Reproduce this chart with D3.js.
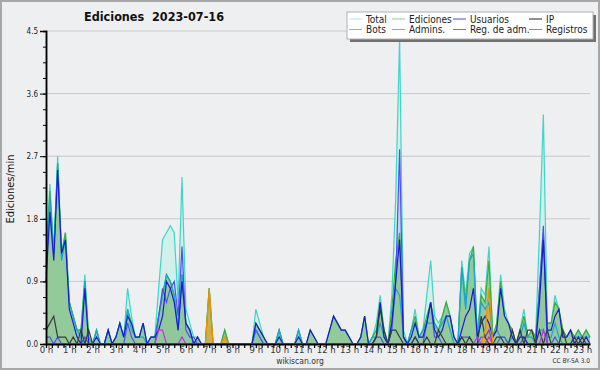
<!DOCTYPE html>
<html>
<head>
<meta charset="utf-8">
<script src="https://cdn.jsdelivr.net/npm/d3@7"></script>
<style>
body{margin:0;background:#fff;}
text{font-family:"DejaVu Sans Condensed","DejaVu Sans",sans-serif;}
</style>
</head>
<body>
<script>
//wrap everything in a self-executing anonymous function
(function(){

//values every 10 minutes (0:00 to 23:20), in edits per minute
var total = [
    1.2, 2.3, 1.3, 2.7, 1.3, 1.6,   0.6, 0.4, 0.2, 0.2, 1.0, 0.1,
    0, 0.2, 0, 0, 0.2, 0,           0.1, 0.3, 0.1, 0.8, 0.4, 0.1,
    0.1, 0.3, 0, 0.1, 0.1, 0.8,     1.5, 1.6, 1.7, 1.6, 0.6, 2.4,
    0.5, 0.3, 0.1, 0.1, 0, 0,       0.8, 0, 0, 0, 0.2, 0,
    0, 0, 0, 0, 0, 0,               0.5, 0.3, 0.1, 0, 0, 0,
    0.2, 0, 0, 0, 0, 0.2,           0, 0, 0.2, 0.1, 0, 0,
    0, 0.2, 0.4, 0.3, 0.2, 0.2,     0.1, 0, 0, 0.1, 0.4, 0,
    0.1, 0.3, 0.7, 0.2, 0, 0.7,     2.1, 4.4, 0.2, 0, 0.2, 0.5,
    0.1, 0.2, 0.7, 1.2, 0.4, 0.3,   0.4, 0.6, 0.4, 0.1, 0, 1.2,
    0.7, 1.3, 1.4, 0.1, 0.8, 0.7,   1.4, 0.1, 0.3, 1.0, 0.5, 0.3,
    0.2, 0, 0.2, 0.5, 0.1, 0.2,     0.1, 1.6, 3.3, 0.3, 0.3, 0.7,
    0.5, 0.2, 0.1, 0.2, 0.1, 0.2,   0.1, 0.2, 0.1
];
var ediciones = [
    1.1, 2.2, 1.3, 2.6, 1.3, 1.6,   0.6, 0.4, 0.2, 0.2, 0.9, 0.1,
    0, 0.2, 0, 0, 0.2, 0,           0.1, 0.3, 0.1, 0.5, 0.3, 0.1,
    0.1, 0.3, 0, 0.1, 0.1, 0.4,     0.7, 1.0, 0.9, 0.7, 0.2, 1.0,
    0.3, 0.2, 0, 0.1, 0, 0,         0.8, 0, 0, 0, 0.2, 0,
    0, 0, 0, 0, 0, 0,               0.3, 0.2, 0.1, 0, 0, 0,
    0.2, 0, 0, 0, 0, 0.2,           0, 0, 0.2, 0.1, 0, 0,
    0, 0.2, 0.4, 0.3, 0.2, 0.2,     0.1, 0, 0, 0.1, 0.4, 0,
    0.1, 0.2, 0.6, 0.2, 0, 0.5,     1.2, 1.6, 0.1, 0, 0.2, 0.4,
    0.1, 0.2, 0.4, 0.6, 0.3, 0.2,   0.4, 0.6, 0.4, 0.1, 0, 1.1,
    0.6, 1.2, 1.4, 0.1, 0.7, 0.6,   1.2, 0.1, 0.3, 0.9, 0.4, 0.3,
    0.2, 0, 0.2, 0.4, 0.1, 0.2,     0.1, 0.8, 1.6, 0.3, 0.3, 0.6,
    0.5, 0.2, 0.1, 0.2, 0.1, 0.2,   0.1, 0.2, 0.1
];
var usuarios = [
    0.9, 1.9, 1.2, 2.5, 1.3, 1.5,   0.5, 0.3, 0.1, 0, 0.8, 0,
    0, 0.1, 0, 0, 0.2, 0,           0.1, 0.3, 0.1, 0.4, 0.3, 0.1,
    0.1, 0.3, 0, 0.1, 0.1, 0.2,     0.4, 0.9, 0.8, 0.6, 0.2, 0.9,
    0.3, 0.2, 0, 0.1, 0, 0,         0, 0, 0, 0, 0, 0,
    0, 0, 0, 0, 0, 0,               0.3, 0.2, 0.1, 0, 0, 0,
    0.1, 0, 0, 0, 0, 0.1,           0, 0, 0.2, 0.1, 0, 0,
    0, 0.2, 0.4, 0.3, 0.2, 0.2,     0.1, 0, 0, 0.1, 0.4, 0,
    0, 0.1, 0.6, 0.1, 0, 0.3,       0.9, 1.5, 0.1, 0, 0.1, 0.3,
    0.1, 0.1, 0.3, 0.6, 0.2, 0.1,   0.2, 0.4, 0.4, 0.1, 0, 0.2,
    0.4, 0.5, 0.8, 0.1, 0.3, 0.4,   0.3, 0.1, 0.2, 0.8, 0.4, 0.3,
    0.1, 0, 0.1, 0.1, 0, 0,         0, 0.6, 1.5, 0.2, 0.2, 0.4,
    0.5, 0.1, 0.1, 0.2, 0, 0.1,     0, 0.1, 0
];
var ip = [
    0.2, 0.3, 0.4, 0.1, 0.1, 0.1,   0, 0.1, 0, 0.2, 0, 0.2,
    0, 0, 0, 0, 0, 0,               0, 0, 0, 0, 0, 0,
    0, 0, 0, 0, 0, 0,               0, 0, 0, 0, 0, 0,
    0, 0, 0, 0, 0, 0,               0, 0, 0, 0, 0, 0,
    0, 0, 0, 0, 0, 0,               0, 0, 0, 0, 0, 0,
    0, 0, 0, 0, 0, 0,               0, 0, 0, 0, 0, 0,
    0, 0, 0, 0, 0, 0,               0, 0, 0, 0, 0, 0,
    0, 0.1, 0.5, 0.2, 0, 0.2,       0.2, 0.1, 0, 0, 0, 0.1,
    0, 0, 0.1, 0, 0, 0.2,           0.1, 0, 0, 0, 0, 0.1,
    0, 0.1, 0, 0, 0.4, 0.1,         0, 0, 0.1, 0.1, 0, 0,
    0.2, 0, 0.2, 0, 0.2, 0.2,       0, 0.2, 0, 0.2, 0, 0,
    0, 0.2, 0, 0, 0.1, 0,           0.1, 0, 0
];
var bots = [
    0, 0, 0, 0, 0, 0,   0, 0, 0, 0, 0, 0,
    0, 0, 0, 0, 0, 0,   0, 0, 0, 0, 0, 0,
    0, 0, 0, 0, 0, 0,   0, 0, 0, 0, 0, 0,
    0, 0, 0, 0, 0, 0,   0.8, 0, 0, 0, 0.1, 0,
    0, 0, 0, 0, 0, 0,   0, 0, 0, 0, 0, 0,
    0, 0, 0, 0, 0, 0,   0, 0, 0, 0, 0, 0,
    0, 0, 0, 0, 0, 0,   0, 0, 0, 0, 0, 0,
    0, 0, 0, 0, 0, 0,   0, 0, 0, 0, 0, 0,
    0, 0, 0, 0, 0, 0,   0, 0, 0, 0, 0, 0,
    0, 0, 0, 0, 0, 0.2, 0.8, 0, 0, 0, 0, 0,
    0, 0, 0, 0, 0, 0,   0, 0, 0, 0, 0, 0,
    0, 0, 0, 0, 0, 0,   0, 0, 0
];
var admins = [
    1.0, 2.1, 1.3, 2.6, 1.2, 1.5,   0.6, 0.4, 0.2, 0.1, 0.9, 0,
    0, 0.2, 0, 0, 0.2, 0,           0.1, 0.3, 0.1, 0.5, 0.2, 0.1,
    0.1, 0.1, 0, 0.1, 0.1, 0.4,     0.7, 1.0, 0.9, 0.7, 0.2, 1.0,
    0.3, 0.2, 0, 0, 0, 0,           0, 0, 0, 0, 0, 0,
    0, 0, 0, 0, 0, 0,               0.2, 0.1, 0, 0, 0, 0,
    0.2, 0, 0, 0, 0, 0.2,           0, 0, 0, 0, 0, 0,
    0, 0, 0, 0, 0, 0,               0, 0, 0, 0, 0, 0,
    0.1, 0.1, 0.3, 0.1, 0, 0.3,     0.8, 0.7, 0.1, 0, 0.2, 0.3,
    0.1, 0.2, 0.3, 0.3, 0.3, 0.2,   0.3, 0.4, 0.2, 0, 0, 1.1,
    0.5, 1.2, 1.3, 0.1, 0.6, 0.5,   0.6, 0.1, 0.2, 0.1, 0.1, 0,
    0.1, 0, 0.1, 0.3, 0.1, 0.1,     0, 0.2, 0.2, 0.1, 0.1, 0.3,
    0.1, 0, 0, 0, 0.1, 0.1,         0.1, 0.1, 0.1
];
var regAdm = [
    0, 0, 0, 0, 0, 0,   0, 0, 0, 0, 0, 0,
    0, 0, 0, 0, 0, 0,   0, 0, 0, 0, 0, 0,
    0, 0, 0, 0, 0, 0.2, 0.2, 0, 0, 0, 0, 0.1,
    0, 0, 0, 0, 0, 0,   0, 0, 0, 0, 0, 0,
    0, 0, 0, 0, 0, 0,   0, 0, 0, 0, 0, 0,
    0, 0, 0, 0, 0, 0,   0, 0, 0, 0, 0, 0,
    0, 0, 0, 0, 0, 0,   0, 0, 0, 0, 0, 0,
    0, 0, 0, 0, 0, 0,   0, 0, 0, 0, 0, 0,
    0, 0, 0, 0, 0, 0,   0, 0, 0, 0, 0, 0,
    0, 0, 0, 0.1, 0, 0, 0.1, 0, 0, 0, 0, 0,
    0, 0, 0, 0, 0, 0,   0, 0, 0.2, 0, 0, 0,
    0, 0, 0, 0, 0, 0,   0, 0, 0
];
var registros = [
    0.1, 0.1, 0, 0.1, 0, 0,         0, 0, 0, 0, 0.1, 0,
    0, 0, 0, 0, 0, 0,               0, 0, 0, 0.3, 0.1, 0,
    0, 0, 0, 0, 0, 0.4,             0.8, 0.6, 0.8, 0.9, 0.4, 1.4,
    0.2, 0.1, 0.1, 0, 0, 0,         0, 0, 0, 0, 0, 0,
    0, 0, 0, 0, 0, 0,               0.2, 0.1, 0, 0, 0, 0,
    0, 0, 0, 0, 0, 0,               0, 0, 0, 0, 0, 0,
    0, 0, 0, 0, 0, 0,               0, 0, 0, 0, 0, 0,
    0, 0.1, 0.1, 0, 0, 0.2,         0.9, 2.8, 0.1, 0, 0, 0.1,
    0, 0, 0.3, 0.6, 0.1, 0.1,       0, 0, 0, 0, 0, 0.1,
    0.1, 0.1, 0, 0, 0.1, 0.1,       0.2, 0, 0, 0.1, 0.1, 0,
    0, 0, 0, 0.1, 0, 0,             0, 0.8, 1.7, 0, 0, 0.1,
    0, 0, 0, 0, 0, 0,               0, 0, 0
];

var legendLabels = ["Total", "Ediciones", "Usuarios", "IP", "Bots", "Admins.", "Reg. de adm.", "Registros"];
var yMajorTicks = [0, 0.9, 1.8, 2.7, 3.6, 4.5];
var hourTicks = [0, 1, 2, 3, 4, 5, 6, 7, 8, 9, 10, 11, 12, 13, 14, 15, 16, 17, 18, 19, 20, 21, 22, 23];

//chart frame dimensions
var width = 600,
    height = 370,
    left = 46,
    right = 590,
    top = 31,
    bottom = 344;

var svg = d3.select("body")
    .append("svg")
    .attr("width", width)
    .attr("height", height);

//background and outer frame
svg.append("rect")
    .attr("x", 1).attr("y", 1)
    .attr("width", width - 2).attr("height", height - 2)
    .attr("fill", "#eeeff1")
    .attr("stroke", "#a8a8a8")
    .attr("stroke-width", 2);

//scales: x in hours, one point every 10 minutes
var x = d3.scaleLinear()
    .domain([0, (total.length - 1) / 6])
    .range([left, right]);

var y = d3.scaleLinear()
    .domain([0, 4.5])
    .range([bottom, top]);

//horizontal grid lines
svg.append("g")
    .selectAll("line")
    .data(yMajorTicks.slice(1))
    .enter()
    .append("line")
    .attr("x1", left)
    .attr("x2", right)
    .attr("y1", function(d){ return y(d); })
    .attr("y2", function(d){ return y(d); })
    .attr("stroke", "#c9c9cb")
    .attr("stroke-width", 1);

//area and line generators
function areaOf(values){
    return d3.area()
        .x(function(d, i){ return x(i / 6); })
        .y0(y(0))
        .y1(function(d){ return y(d); })(values);
}
function lineOf(values){
    return d3.line()
        .x(function(d, i){ return x(i / 6); })
        .y(function(d){ return y(d); })(values);
}

var plot = svg.append("g");

//filled areas first
plot.append("path").attr("d", areaOf(total)).attr("fill", "#d3efe9");
plot.append("path").attr("d", areaOf(registros)).attr("fill", "#6e6ef0").attr("fill-opacity", 0.18);
plot.append("path").attr("d", areaOf(ediciones)).attr("fill", "#8cc793").attr("fill-opacity", 0.92);
plot.append("path").attr("d", areaOf(bots)).attr("fill", "#f0a020").attr("fill-opacity", 0.65);

//series lines, in drawing order
var lines = [
    {values: total, color: "#3ed6c6"},
    {values: ediciones, color: "#38b038"},
    {values: admins, color: "#18a6d8"},
    {values: registros, color: "#5050f0"},
    {values: usuarios, color: "#1a1ad6"},
    {values: ip, color: "#3a3a3a"},
    {values: regAdm, color: "#c030e8"},
    {values: bots, color: "#f09000"}
];
lines.forEach(function(s){
    plot.append("path")
        .attr("d", lineOf(s.values))
        .attr("fill", "none")
        .attr("stroke", s.color)
        .attr("stroke-width", 1.2)
        .attr("stroke-linejoin", "miter");
});

//y axis: minor and major ticks
var yMinor = svg.append("g")
    .attr("transform", "translate(" + left + ",0)")
    .call(d3.axisLeft(y).tickValues(d3.range(0, 4.51, 0.225)).tickSize(3).tickFormat(""));
var yMajor = svg.append("g")
    .attr("transform", "translate(" + left + ",0)")
    .call(d3.axisLeft(y).tickValues(yMajorTicks).tickSize(6).tickPadding(2).tickFormat(d3.format(".1f")));
[yMinor, yMajor].forEach(function(g){
    g.select(".domain").attr("stroke", "#000").attr("stroke-width", 1.5);
    g.selectAll(".tick line").attr("stroke", "#000");
});
yMajor.selectAll(".tick text")
    .attr("font-size", 8)
    .attr("fill", "#222")
    .style("font-family", "'DejaVu Sans Condensed','DejaVu Sans',sans-serif");

//x axis: ticks every 15 minutes, labels every hour
var xMinor = svg.append("g")
    .attr("transform", "translate(0," + bottom + ")")
    .call(d3.axisBottom(x).tickValues(d3.range(0, x.domain()[1], 0.25)).tickSize(4).tickSizeOuter(0).tickFormat(""));
xMinor.select(".domain").attr("stroke", "#000").attr("stroke-width", 2);
xMinor.selectAll(".tick line").attr("stroke", "#000").attr("stroke-width", 1.2);

var xLabels = svg.append("g")
    .attr("transform", "translate(0," + bottom + ")")
    .call(d3.axisBottom(x).tickValues(hourTicks).tickSize(0).tickPadding(2).tickFormat(function(d){ return d + " h"; }));
xLabels.select(".domain").remove();
xLabels.selectAll(".tick text")
    .attr("font-size", 9.5)
    .attr("fill", "#333")
    .style("font-family", "'DejaVu Sans Condensed','DejaVu Sans',sans-serif");

//title
svg.append("text")
    .attr("x", 154)
    .attr("y", 21)
    .attr("text-anchor", "middle")
    .attr("font-size", 12.5)
    .attr("font-weight", "bold")
    .attr("fill", "#111")
    .style("white-space", "pre")
    .text("Ediciones  2023-07-16");

//y axis title
svg.append("text")
    .attr("transform", "translate(14,189) rotate(-90)")
    .attr("text-anchor", "middle")
    .attr("font-size", 11)
    .attr("fill", "#111")
    .text("Ediciones/min");

//footer texts
svg.append("text")
    .attr("x", 300).attr("y", 364)
    .attr("text-anchor", "middle")
    .attr("font-size", 8.5)
    .attr("fill", "#333")
    .text("wikiscan.org");
svg.append("text")
    .attr("x", 590).attr("y", 363)
    .attr("text-anchor", "end")
    .attr("font-size", 6.5)
    .attr("fill", "#333")
    .text("CC BY-SA 3.0");

//legend box with shadow
var legend = svg.append("g");
legend.append("rect")
    .attr("x", 350).attr("y", 15)
    .attr("width", 246).attr("height", 27)
    .attr("fill", "#707070");
legend.append("rect")
    .attr("x", 347).attr("y", 12)
    .attr("width", 246).attr("height", 27)
    .attr("fill", "#fff")
    .attr("stroke", "#b0b0b0");

var legendColors = ["#a8e8e4", "#8cd08c", "#4848e0", "#222", "#f0a040", "#40c8d8", "#d040e0", "#8080f0"];
var colX = [349, 392, 453, 529];
legendLabels.forEach(function(label, i){
    var cx = colX[i % 4],
        cy = i < 4 ? 19 : 29.5;
    legend.append("line")
        .attr("x1", cx).attr("x2", cx + 13)
        .attr("y1", cy).attr("y2", cy)
        .attr("stroke", legendColors[i])
        .attr("stroke-width", 1);
    legend.append("text")
        .attr("x", cx + 17)
        .attr("y", cy + 3.5)
        .attr("font-size", 10)
        .attr("fill", "#222")
        .text(label);
});

})();
</script>
</body>
</html>
